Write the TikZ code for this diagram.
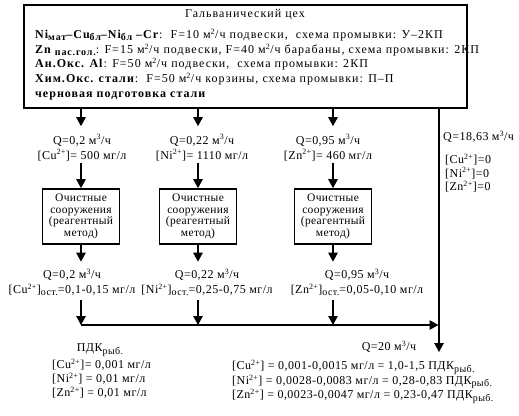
\documentclass[tikz,border=0pt]{standalone}
\usepackage{fontspec}
\setmainfont{Liberation Serif}[LetterSpace=4]
\newfontfamily\widefont{Liberation Serif}[LetterSpace=8.5]
\newfontfamily\semifont{Liberation Serif}[LetterSpace=3]
\usetikzlibrary{arrows.meta,calc}
\newcommand{\sbx}[1]{\raisebox{-0.45ex}{\fontsize{10}{10}\selectfont #1}}
\newcommand{\spx}[1]{\textsuperscript{#1}}
\begin{document}
\begin{tikzpicture}[x=1pt,y=-1pt,
  flow/.style={line width=1.2pt,-{Triangle[length=9pt,width=9.5pt]}},
  txt/.style={font=\fontsize{12}{15}\selectfont,inner sep=0pt,align=center},
  wtxt/.style={font=\widefont\fontsize{12}{15}\selectfont,inner sep=0pt,align=left},
  ltxt/.style={font=\fontsize{12}{14}\selectfont,inner sep=0pt,align=left},
  plant/.style={draw,line width=1.7pt,minimum width=77pt,minimum height=55pt,
    inner sep=0pt,align=center,font=\semifont\fontsize{11.5}{11.5}\selectfont},
  shopbox/.style={draw,line width=1.7pt,minimum width=443pt,minimum height=103pt,inner sep=0pt}]
\useasboundingbox (0,0) rectangle (519,415);
% main box
\node[shopbox] (shop) at (245.5,56.5) {};
\node[wtxt,anchor=base] (title) at (245,17.5) {Гальванический цех};
\node[wtxt,anchor=base west] (l1) at (35,38.5) {\textbf{Ni\sbx{мат}–Cu\sbx{бл}–Ni\sbx{бл} –Cr}:\ \ F=10 м\spx{2}/ч подвески,\ \ схема промывки: У–2КП};
\node[wtxt,anchor=base west] (l2) at (35,53.5) {\textbf{Zn \sbx{пас.гол.}}: F=15 м\spx{2}/ч подвески, F=40 м\spx{2}/ч барабаны, схема промывки: 2КП};
\node[wtxt,anchor=base west] (l3) at (35,67.5) {\textbf{Ан.Окс. Al}: F=50 м\spx{2}/ч подвески,\ \ схема промывки: 2КП};
\node[wtxt,anchor=base west] (l4) at (35,82.5) {\textbf{Хим.Окс. стали}:\ \ F=50 м\spx{2}/ч корзины, схема промывки: П–П};
\node[wtxt,anchor=base west] (l5) at (35,97.5) {\textbf{черновая подготовка стали}};
% inflow labels
\node[txt] (q1) at (82,147.5) {Q=0,2 м\spx{3}/ч\\{[}Cu\spx{2+}]= 500 мг/л};
\node[txt] (q2) at (202,147.5) {Q=0,22 м\spx{3}/ч\\{[}Ni\spx{2+}]= 1110 мг/л};
\node[txt] (q3) at (328,147.5) {Q=0,95 м\spx{3}/ч\\{[}Zn\spx{2+}]= 460 мг/л};
% treatment plants
\node[plant] (t1) at (81,216.5) {Очистные\\сооружения\\(реагентный\\метод)};
\node[plant] (t2) at (198,216.5) {Очистные\\сооружения\\(реагентный\\метод)};
\node[plant] (t3) at (333,216.5) {Очистные\\сооружения\\(реагентный\\метод)};
% outflow labels
\node[txt] (r1) at (72,282.5) {Q=0,2 м\spx{3}/ч\\{[}Cu\spx{2+}]\sbx{ост.}=0,1-0,15 мг/л};
\node[txt] (r2) at (207,282.5) {Q=0,22 м\spx{3}/ч\\{[}Ni\spx{2+}]\sbx{ост.}=0,25-0,75 мг/л};
\node[txt] (r3) at (357,282.5) {Q=0,95 м\spx{3}/ч\\{[}Zn\spx{2+}]\sbx{ост.}=0,05-0,10 мг/л};
% bypass labels
\node[txt,anchor=west] (qb) at (443,137) {Q=18,63 м\spx{3}/ч};
\node[ltxt,anchor=north west,font=\fontsize{12}{13.5}\selectfont] (cb) at (445,154) {{[}Cu\spx{2+}]=0\\{[}Ni\spx{2+}]=0\\{[}Zn\spx{2+}]=0};
% bus and outlet
\coordinate (busL) at (81,325);
\coordinate (busR) at (438.5,325);
\coordinate (outlet) at (439,352);
\node[txt] (q20) at (389,347) {Q=20 м\spx{3}/ч};
% bottom texts
\node[txt] (pdk) at (100,350) {ПДК\sbx{рыб.}};
\node[ltxt,anchor=north west] (pdkv) at (52,359) {{[}Cu\spx{2+}]= 0,001 мг/л\\{[}Ni\spx{2+}] = 0,01 мг/л\\{[}Zn\spx{2+}] = 0,01 мг/л};
\node[ltxt,anchor=north west,font=\fontsize{12}{14.5}\selectfont] (res) at (232,360) {{[}Cu\spx{2+}] = 0,001-0,0015 мг/л = 1,0-1,5 ПДК\sbx{рыб.}\\{[}Ni\spx{2+}] = 0,0028-0,0083 мг/л = 0,28-0,83 ПДК\sbx{рыб.}\\{[}Zn\spx{2+}] = 0,0023-0,0047 мг/л = 0,23-0,47 ПДК\sbx{рыб.}};
% connectors
\foreach \i in {1,2,3}{
  \draw[flow,shorten >=8pt] (shop.south -| t\i) -- (q\i.north -| t\i);
  \draw[flow,shorten <=2pt] (q\i.south -| t\i) -- (t\i.north);
  \draw[flow,shorten >=7pt] (t\i.south) -- (r\i.north -| t\i);
  \draw[flow,shorten <=4pt] (r\i.south -| t\i) -- (t\i |- busL);
}
\draw[flow] (busL) -- (busR);
\draw[flow] (shop.south -| outlet) -- (outlet);
\end{tikzpicture}
\end{document}
